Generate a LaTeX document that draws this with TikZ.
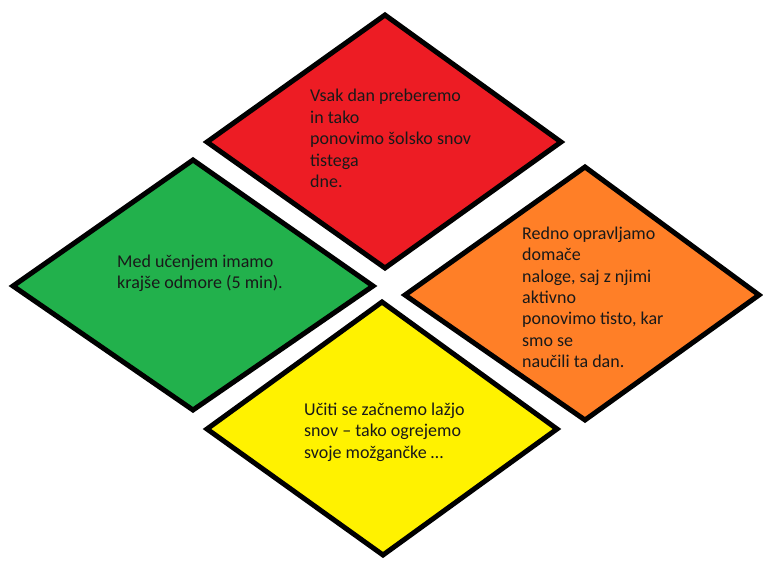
\documentclass[tikz,border=0pt]{standalone}
\usepackage{fontspec}
\setmainfont{Carlito}
\definecolor{pred}{HTML}{ED1C24}
\definecolor{pgreen}{HTML}{22B14C}
\definecolor{porange}{HTML}{FF7F27}
\definecolor{pyellow}{HTML}{FFF200}
\begin{document}
\begin{tikzpicture}[x=1pt,y=-1pt,
  tile/.style={draw=black,line width=5pt,line join=miter},
  txt/.style={anchor=base west,inner sep=0pt,align=left,text=black!90,
    font=\fontsize{18}{21.4}\selectfont}]
\useasboundingbox (0,0) rectangle (763,561);
% red
\coordinate (rT) at (385,15); \coordinate (rR) at (561,142);
\coordinate (rB) at (385,268); \coordinate (rL) at (207,142);
\fill[pred] (rT) -- (rR) -- (rB) -- (rL) -- cycle;
\draw[tile] (rT) -- (rR) -- (rB) -- (rL) -- cycle;
% green
\coordinate (gT) at (193,160); \coordinate (gR) at (373,286);
\coordinate (gB) at (193,410); \coordinate (gL) at (13,286);
\fill[pgreen] (gT) -- (gR) -- (gB) -- (gL) -- cycle;
\draw[tile] (gT) -- (gR) -- (gB) -- (gL) -- cycle;
% orange
\coordinate (oT) at (585,167); \coordinate (oR) at (759,295);
\coordinate (oB) at (585,420); \coordinate (oL) at (405,295);
\fill[porange] (oT) -- (oR) -- (oB) -- (oL) -- cycle;
\draw[tile] (oT) -- (oR) -- (oB) -- (oL) -- cycle;
% yellow
\coordinate (yT) at (382,302); \coordinate (yR) at (557,429);
\coordinate (yB) at (383,555); \coordinate (yL) at (207,429);
\fill[pyellow] (yT) -- (yR) -- (yB) -- (yL) -- cycle;
\draw[tile] (yT) -- (yR) -- (yB) -- (yL) -- cycle;
% texts (anchored at the baseline of the last line)
\node[txt] (redtext) at (310,187.6) {Vsak dan preberemo\\in tako\\ponovimo šolsko snov\\tistega\\dne.};
\node[txt] (greentext) at (117,288.6) {Med učenjem imamo\\krajše odmore (5 min).};
\node[txt] (orangetext) at (522,367.6) {Redno opravljamo\\domače\\naloge, saj z njimi\\aktivno\\ponovimo tisto, kar\\smo se\\naučili ta dan.};
\node[txt] (yellowtext) at (304,458) {Učiti se začnemo lažjo\\snov – tako ogrejemo\\svoje možgančke …};
\end{tikzpicture}
\end{document}
